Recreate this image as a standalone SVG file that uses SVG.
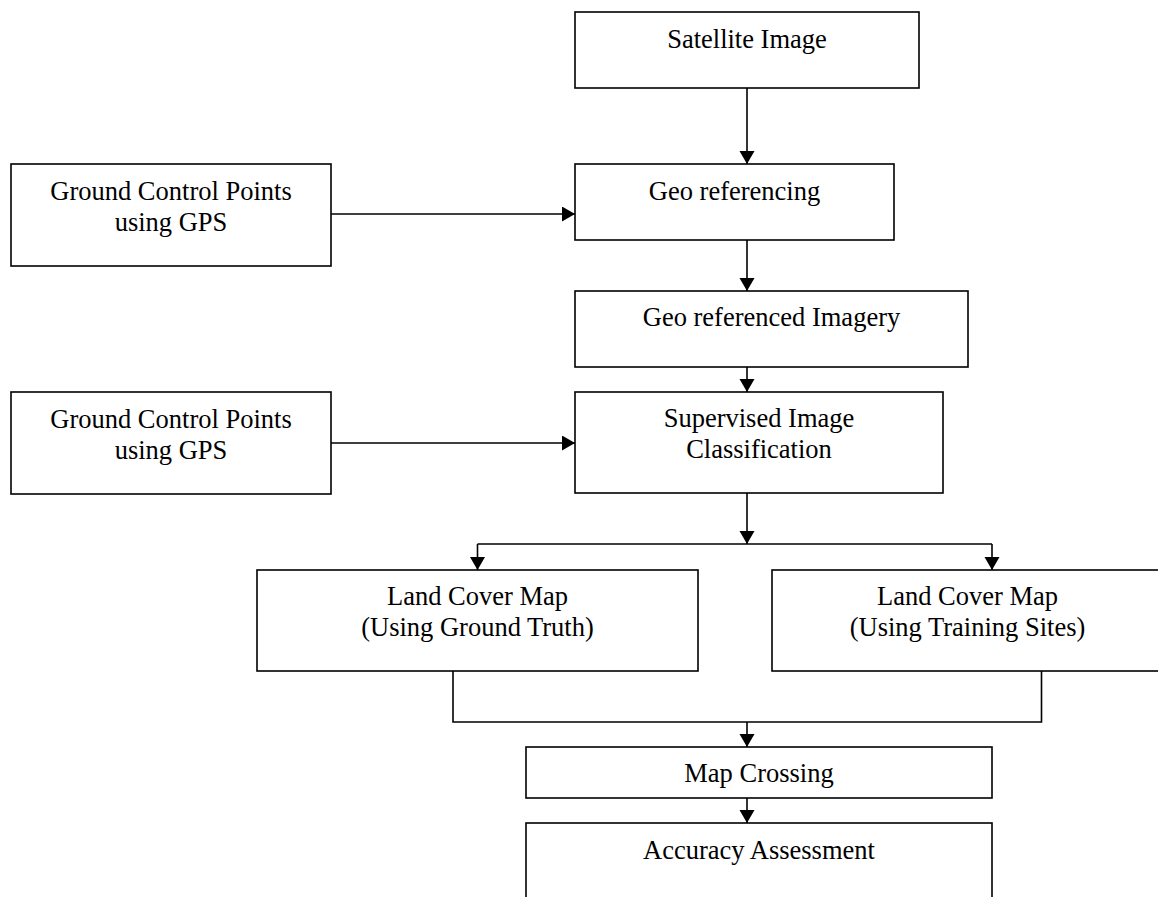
<svg xmlns="http://www.w3.org/2000/svg" width="1158" height="897" viewBox="0 0 1158 897">
<defs>
<marker id="ah" markerUnits="userSpaceOnUse" markerWidth="14" markerHeight="16" refX="13" refY="7.5" orient="auto">
<path d="M0,0 L13,7.5 L0,15 Z" fill="#000"/>
</marker>
<style>
.box{fill:#fff;stroke:#000;stroke-width:1.6}
.t{font-family:"Liberation Serif","Times New Roman",serif;font-size:26.5px;fill:#000;text-anchor:middle}
.c{fill:none;stroke:#000;stroke-width:1.6}
.a{marker-end:url(#ah)}
</style>
</defs>
<rect width="1158" height="897" fill="#fff"/>
<g id="connectors">
<line class="c a" x1="747" y1="88" x2="747" y2="164"/>
<line class="c a" x1="331" y1="214" x2="575" y2="214"/>
<line class="c a" x1="747" y1="240" x2="747" y2="291"/>
<line class="c a" x1="747" y1="367" x2="747" y2="392"/>
<line class="c a" x1="331" y1="443" x2="575" y2="443"/>
<line class="c a" x1="747" y1="493" x2="747" y2="544"/>
<polyline class="c" points="477.5,544 992,544"/>
<line class="c a" x1="477.5" y1="544" x2="477.5" y2="570"/>
<line class="c a" x1="992" y1="544" x2="992" y2="570"/>
<polyline class="c" points="453,671 453,722 1041.5,722 1041.5,671"/>
<line class="c a" x1="747" y1="722" x2="747" y2="747"/>
<line class="c a" x1="747" y1="798" x2="747" y2="823"/>
</g>
<g id="satellite">
<rect class="box" x="575" y="12" width="344" height="76"/>
<text class="t" x="747" y="48">Satellite Image</text>
</g>
<g id="georef">
<rect class="box" x="575" y="164" width="319" height="76"/>
<text class="t" x="734.5" y="200">Geo referencing</text>
</g>
<g id="gcp1">
<rect class="box" x="11" y="164" width="320" height="102"/>
<text class="t" x="171" y="200">Ground Control Points</text>
<text class="t" x="171" y="231">using GPS</text>
</g>
<g id="imagery">
<rect class="box" x="575" y="291" width="393" height="76"/>
<text class="t" x="771.5" y="326">Geo referenced Imagery</text>
</g>
<g id="supervised">
<rect class="box" x="575" y="392" width="368" height="101"/>
<text class="t" x="759" y="427">Supervised Image</text>
<text class="t" x="759" y="458">Classification</text>
</g>
<g id="gcp2">
<rect class="box" x="11" y="392" width="320" height="102"/>
<text class="t" x="171" y="428">Ground Control Points</text>
<text class="t" x="171" y="459">using GPS</text>
</g>
<g id="lc-ground">
<rect class="box" x="257" y="570" width="441" height="101"/>
<text class="t" x="477.5" y="605">Land Cover Map</text>
<text class="t" x="477.5" y="636">(Using Ground Truth)</text>
</g>
<g id="lc-training">
<rect class="box" x="772" y="570" width="392" height="101"/>
<text class="t" x="967.5" y="605">Land Cover Map</text>
<text class="t" x="967.5" y="636">(Using Training Sites)</text>
</g>
<g id="mapcrossing">
<rect class="box" x="526" y="747" width="466" height="51"/>
<text class="t" x="759" y="782">Map Crossing</text>
</g>
<g id="accuracy">
<rect class="box" x="526" y="823" width="466" height="90"/>
<text class="t" x="759" y="859">Accuracy Assessment</text>
</g>
</svg>
